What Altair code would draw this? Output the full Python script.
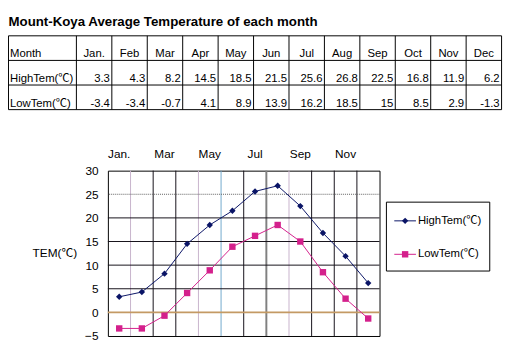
import altair as alt
import pandas as pd

# ---------------- data ----------------
months = ["Jan.", "Feb", "Mar", "Apr", "May", "Jun", "Jul", "Aug", "Sep", "Oct", "Nov", "Dec"]
high = [3.3, 4.3, 8.2, 14.5, 18.5, 21.5, 25.6, 26.8, 22.5, 16.8, 11.9, 6.2]
low = [-3.4, -3.4, -0.7, 4.1, 8.9, 13.9, 16.2, 18.5, 15, 8.5, 2.9, -1.3]
series = ["HighTem(℃)", "LowTem(℃)"]
row_header = "Month"
title_text = "Mount-Koya Average Temperature of each month"
axis_months = ["Jan.", "Mar", "May", "Jul", "Sep", "Nov"]
y_ticks = [-5, 0, 5, 10, 15, 20, 25, 30]
y_grid = [5, 10, 15, 20]

# ---------------- styles / layout ----------------
FONT = "Liberation Sans, Noto Sans CJK JP, sans-serif"
W, H = 276, 168
NAVY = "#0a1466"
MAGENTA = "#d4208c"
DARK = "#141018"
V_GRID_COLORS = ["#c8b4cc", DARK, DARK, "#c8b4cc", "#70a8cc", DARK, "#808080",
                 "#c8b4cc", DARK, DARK, DARK]
V_GRID_WIDTHS = [1, 1, 1, 1, 1, 1, 2, 1, 1, 1, 1]
LABEL_W = 69 / 36        # width of the label column, in month-column units
TX = [-101, 400]         # table horizontal extent (px, relative to plot)
TY = [-137, -62]         # table vertical extent

# ---------------- main plot ----------------
plot_df = pd.DataFrame({
    "month": months * 2,
    "series": [series[0]] * len(months) + [series[1]] * len(months),
    "value": high + low,
})

xscale = alt.Scale(type="band", domain=months, paddingInner=0, paddingOuter=0)
yscale = alt.Scale(domain=[-5, 30], nice=False, zero=False)
cscale = alt.Scale(domain=series, range=[NAVY, MAGENTA])
sscale = alt.Scale(domain=series, range=["diamond", "square"])

x_axis = alt.Axis(orient="top", values=axis_months, domain=False, ticks=False,
                  grid=False, labelAngle=0, labelPadding=10, labelFontSize=12,
                  labelFont=FONT, labelColor="black", title=None)
y_axis = alt.Axis(values=y_ticks, domain=False, ticks=False, grid=False,
                  labelPadding=10, labelFontSize=12, labelFont=FONT, labelColor="black",
                  title="TEM(℃)", titleAngle=0, titleAlign="left", titleBaseline="middle",
                  titleX=-77, titleY=83, titleFont=FONT, titleFontSize=12,
                  titleFontWeight="normal", titleColor="black")


def X(field, band):
    return alt.X(field, scale=xscale, bandPosition=band, axis=x_axis, title=None)


def Y(field):
    return alt.Y(field, scale=yscale, axis=y_axis, title="TEM(℃)")


vgrid_df = pd.DataFrame({"month": months[1:], "gc": V_GRID_COLORS, "gw": V_GRID_WIDTHS})
vgrid = alt.Chart(vgrid_df).mark_rule().encode(
    x=X("month:N", 0),
    color=alt.Color("gc:N", scale=None, legend=None),
    strokeWidth=alt.StrokeWidth("gw:Q", scale=None, legend=None),
)

hgrid = alt.Chart(pd.DataFrame({"value": y_grid})).mark_rule(color=DARK, strokeWidth=1).encode(
    y=Y("value:Q")
)
h25 = alt.Chart(pd.DataFrame({"value": [25]})).mark_rule(
    color="#606060", strokeWidth=1, strokeDash=[1, 1]
).encode(y=Y("value:Q"))
h0 = alt.Chart(pd.DataFrame({"value": [0]})).mark_rule(color="#c49a64", strokeWidth=2).encode(
    y=Y("value:Q")
)

lines = alt.Chart(plot_df).mark_line(strokeWidth=1).encode(
    x=X("month:N", 0.5), y=Y("value:Q"),
    color=alt.Color("series:N", scale=cscale, legend=None),
    detail="series:N",
)
points = alt.Chart(plot_df).mark_point(filled=True, opacity=1, size=42).encode(
    x=X("month:N", 0.5), y=Y("value:Q"),
    color=alt.Color("series:N", scale=cscale, legend=None),
    shape=alt.Shape("series:N", scale=sscale, legend=None),
)

plot_layer = alt.layer(vgrid, hgrid, h25, h0, lines, points)

# ---------------- table ----------------
txs = alt.Scale(domain=[-LABEL_W, 12], range=TX, nice=False, zero=False)
tys = alt.Scale(domain=[0, 3], range=TY, nice=False, zero=False)

vlines_df = pd.DataFrame({"c": [-LABEL_W] + list(range(13)), "r0": 0, "r1": 3})
hlines_df = pd.DataFrame({"r": [0, 1, 2, 3], "c0": -LABEL_W, "c1": 12})

t_vlines = alt.Chart(vlines_df).mark_rule(color="black", strokeWidth=1).encode(
    x=alt.X("c:Q", scale=txs, axis=None),
    y=alt.Y("r0:Q", scale=tys, axis=None), y2="r1:Q",
)
t_hlines = alt.Chart(hlines_df).mark_rule(color="black", strokeWidth=1).encode(
    y=alt.Y("r:Q", scale=tys, axis=None),
    x=alt.X("c0:Q", scale=txs, axis=None), x2="c1:Q",
)

labels_df = pd.DataFrame({"txt": [row_header] + series, "c": -LABEL_W, "r": [1, 2, 3]})
t_labels = alt.Chart(labels_df).mark_text(
    align="left", baseline="alphabetic", dx=1.5, dy=-3, font=FONT, fontSize=11.5, color="black"
).encode(
    x=alt.X("c:Q", scale=txs, axis=None),
    y=alt.Y("r:Q", scale=tys, axis=None),
    text="txt:N",
)

head_df = pd.DataFrame({"txt": months, "c": [i + 0.5 for i in range(12)], "r": 1})
t_head = alt.Chart(head_df).mark_text(
    align="center", baseline="alphabetic", dy=-3, font=FONT, fontSize=11.5, color="black"
).encode(
    x=alt.X("c:Q", scale=txs, axis=None),
    y=alt.Y("r:Q", scale=tys, axis=None),
    text="txt:N",
)

vals_df = pd.DataFrame({
    "txt": [f"{v:g}" for v in high] + [f"{v:g}" for v in low],
    "c": [i + 1 for i in range(12)] * 2,
    "r": [2] * 12 + [3] * 12,
})
t_vals = alt.Chart(vals_df).mark_text(
    align="right", baseline="alphabetic", dx=-2, dy=-3, font=FONT, fontSize=11.5, color="black"
).encode(
    x=alt.X("c:Q", scale=txs, axis=None),
    y=alt.Y("r:Q", scale=tys, axis=None),
    text="txt:N",
)

table_layer = alt.layer(t_vlines, t_hlines, t_labels, t_head, t_vals)

# ---------------- title ----------------
title_layer = alt.Chart(pd.DataFrame({"t": [title_text]})).mark_text(
    align="left", baseline="alphabetic", font=FONT, fontSize=13.5, fontWeight="bold", color="black"
).encode(x=alt.value(-101), y=alt.value(-147), text="t:N")

# ---------------- legend ----------------
leg_df = pd.DataFrame({"series": series})
lys = alt.Scale(type="point", domain=series, range=[51, 85], padding=0)

leg_box = alt.Chart(pd.DataFrame({"k": [0]})).mark_rect(
    fill="white", stroke="black", strokeWidth=1
).encode(x=alt.value(283), x2=alt.value(388), y=alt.value(32), y2=alt.value(102))

leg_line = alt.Chart(leg_df).mark_rule(strokeWidth=1).encode(
    y=alt.Y("series:N", scale=lys, axis=None),
    x=alt.value(291), x2=alt.value(313),
    color=alt.Color("series:N", scale=cscale, legend=None),
)
leg_pt = alt.Chart(leg_df).mark_point(filled=True, opacity=1, size=42).encode(
    y=alt.Y("series:N", scale=lys, axis=None),
    x=alt.value(302),
    color=alt.Color("series:N", scale=cscale, legend=None),
    shape=alt.Shape("series:N", scale=sscale, legend=None),
)
leg_txt = alt.Chart(leg_df).mark_text(
    align="left", baseline="middle", font=FONT, fontSize=11.5, color="black"
).encode(
    y=alt.Y("series:N", scale=lys, axis=None),
    x=alt.value(315),
    text="series:N",
)
legend_layer = alt.layer(leg_box, leg_line, leg_pt, leg_txt)

# ---------------- compose ----------------
chart = alt.layer(plot_layer, table_layer, legend_layer, title_layer).resolve_scale(
    x="independent", y="independent", color="independent", shape="independent"
).properties(
    width=W, height=H,
    padding={"left": 101.5, "top": 162.5, "right": 128.5, "bottom": 13.5},
    autosize=alt.AutoSizeParams(type="none"),
    background="white",
).configure_view(stroke="black", strokeWidth=1)

chart.save("out.html", embed_options={"renderer": "svg", "actions": False})
